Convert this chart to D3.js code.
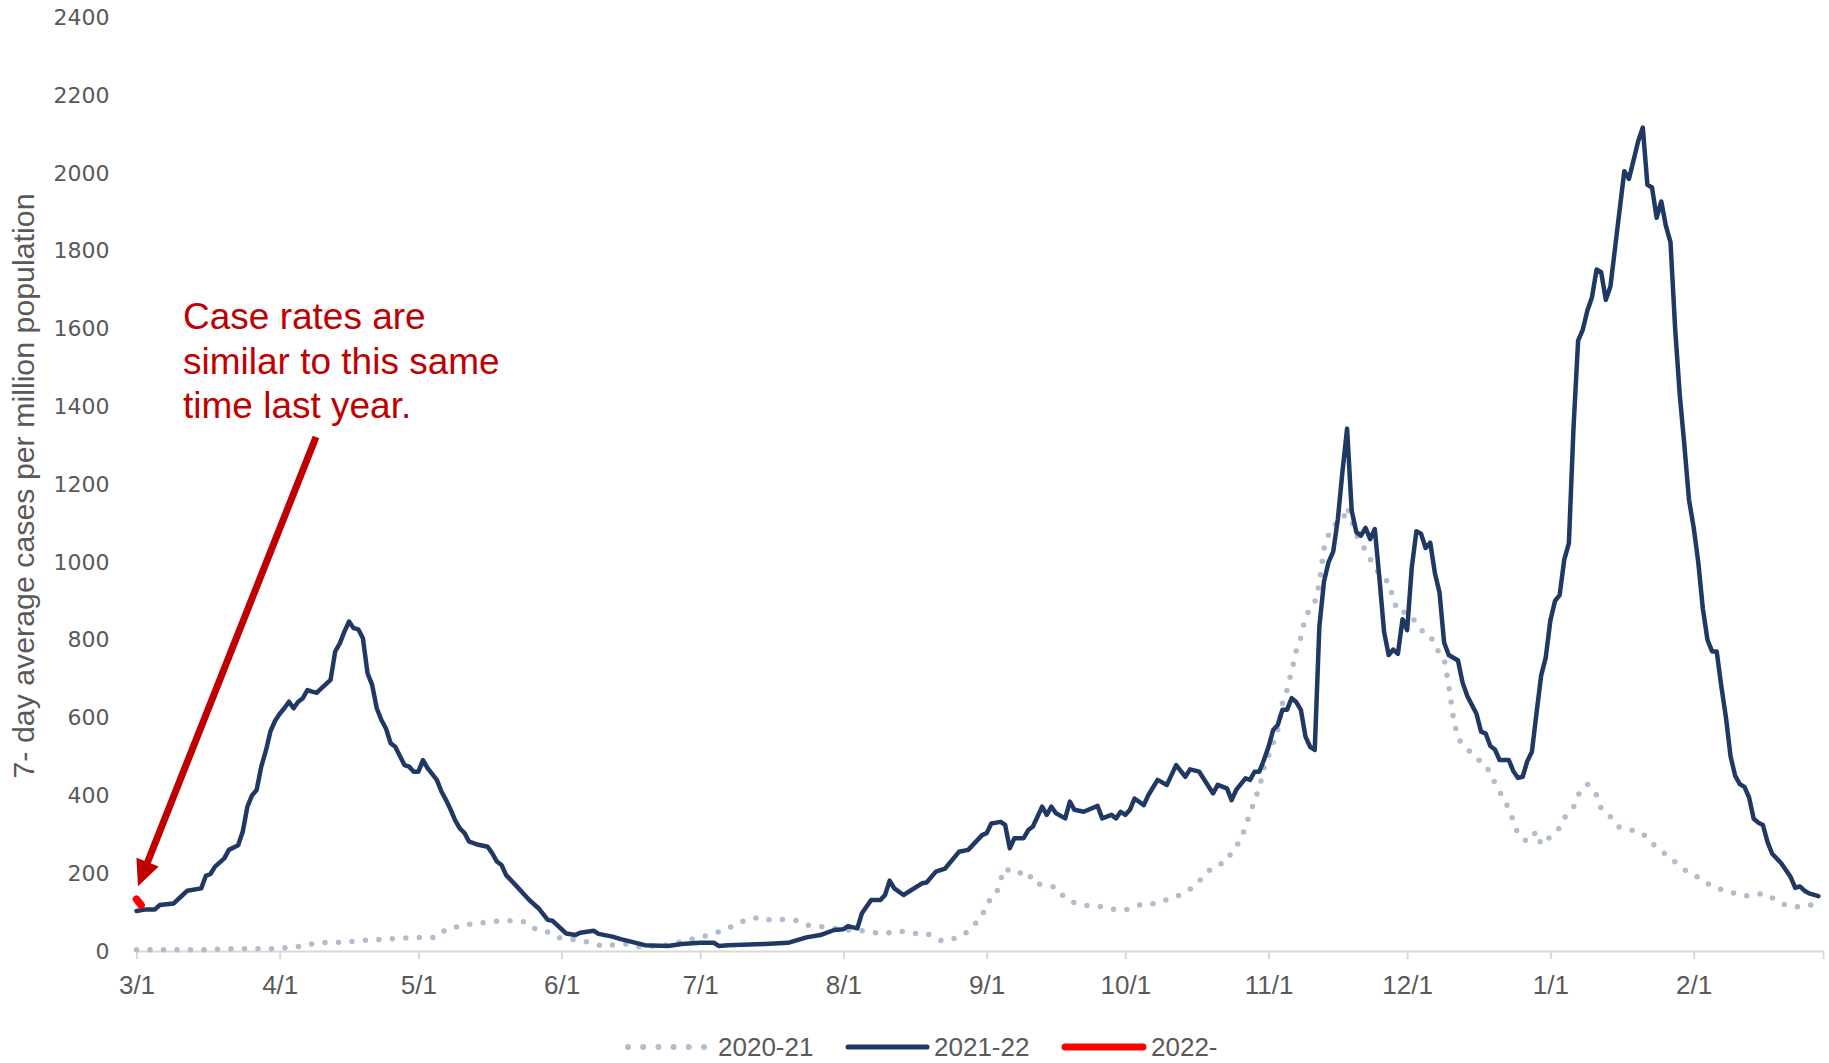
<!DOCTYPE html>
<html>
<head>
<meta charset="utf-8">
<script src="https://cdn.jsdelivr.net/npm/d3@7"></script>
<style>
  html, body { margin: 0; padding: 0; background: #ffffff; }
  svg { display: block; }
</style>
</head>
<body>
<svg id="chart" width="1829" height="1063"></svg>
<script>
// Day offsets are counted from 1 March of each season.
const days2021 = [0,6,15,21,30,33,36,39,45,50,56,62,65,67,70,73,76,79,81,84,86,88,91,96,99,101,104,107,109,113,116,118,121,124,127,129,132,135,137,140,143,145,148,151,154,157,160,163,165,168,171,174,176,179,181,183,184,186,187,188,190,193,194,196,199,201,203,206,209,211,214,217,219,222,224,227,229,231,233,236,237,239,240,241,242,243,244,246,247,248,249,250,251,252,253,255,256,257,258,259,261,262,264,266,268,270,271,272,273,275,277,278,280,281,283,284,285,286,288,290,292,293,295,297,298,299,301,303,304,306,308,309,311,312,314,316,317,319,321,324,326,328,330,332,334,336,339,341,344,346,349,352,355,357,360,363];
const cases2021 = [3,3,3,6,6,9,13,21,23,28,32,35,35,56,64,71,73,78,78,75,58,55,35,27,20,11,18,18,11,13,18,24,33,41,54,64,81,87,80,81,78,67,63,58,54,52,47,47,52,45,45,27,28,41,63,90,123,144,183,213,198,204,176,170,164,135,124,116,114,108,105,118,118,129,135,150,167,193,217,230,255,285,320,354,387,421,470,534,568,637,671,720,772,806,860,896,945,1035,1070,1095,1105,1142,1070,1030,986,954,950,905,871,871,844,825,813,782,752,683,600,546,520,495,480,454,410,366,333,300,281,307,273,294,317,342,370,401,429,401,366,345,317,310,302,277,257,239,218,201,183,165,155,148,141,148,131,117,113,120];

const days2122 = [0,2,4,5,8,10,11,14,15,16,17,19,20,22,23,24,25,26,27,28,29,30,31,32,33,34,35,36,37,38,39,40,42,43,44,45,46,47,48,49,50,51,52,53,54,55,56,58,59,60,61,62,63,65,66,67,68,69,70,71,72,74,76,77,78,79,80,82,85,87,89,90,93,95,96,99,100,103,105,107,110,115,118,122,125,126,128,136,141,145,148,151,153,154,156,157,159,161,162,163,164,166,170,171,173,175,178,180,183,184,185,187,188,189,190,192,193,194,196,197,198,199,201,202,203,205,208,209,211,212,213,214,215,216,218,219,221,223,225,227,228,230,233,234,236,237,238,240,241,242,243,244,245,246,247,248,249,250,251,252,253,254,255,256,257,258,259,260,261,262,263,264,265,266,267,268,269,270,271,272,273,274,275,276,277,278,279,280,281,282,283,284,286,287,288,290,291,292,293,294,295,297,298,299,300,301,302,303,304,305,306,307,308,309,310,311,312,313,314,315,316,317,318,319,320,322,323,324,325,326,327,328,329,330,331,332,333,334,335,336,337,338,339,340,341,342,343,344,345,346,347,348,349,350,351,352,353,354,356,358,359,360,361,362,364];
const cases2122 = [103,107,107,118,122,144,155,161,193,198,217,238,260,272,307,371,400,414,474,515,565,592,610,624,641,624,641,650,671,667,664,675,697,770,791,821,847,830,827,804,714,684,624,594,572,534,525,478,474,461,461,491,470,440,410,388,363,335,315,303,281,273,268,251,230,221,195,170,131,110,80,78,45,41,47,52,44,37,30,24,15,13,18,21,21,13,15,18,21,35,41,54,56,64,58,97,131,131,144,181,161,144,174,176,204,212,255,260,298,303,328,332,324,264,290,290,311,320,371,350,371,354,341,384,363,358,373,341,350,341,358,350,363,392,375,401,440,427,478,448,467,461,405,427,418,388,414,444,440,461,461,491,525,568,581,620,620,650,640,620,551,525,517,834,950,1000,1027,1110,1233,1343,1132,1077,1068,1088,1059,1085,958,821,761,775,764,853,825,986,1079,1073,1036,1050,972,922,793,761,747,690,656,610,564,559,527,518,491,491,462,445,448,488,512,612,708,755,850,900,915,1006,1048,1344,1569,1597,1646,1681,1752,1745,1674,1709,1808,2005,1985,2033,2082,2117,1970,1963,1885,1927,1864,1822,1600,1430,1300,1160,1090,1000,880,800,770,770,680,600,500,450,429,422,395,340,330,324,280,250,225,190,162,166,155,148,141];

const days2223 = [0,1];
const cases2223 = [133,118];

const yTicks = [0,200,400,600,800,1000,1200,1400,1600,1800,2000,2200,2400];
const seriesNames = ["2020-21","2021-22","2022-"];
const seriesColors = ["#b1bccd","#203864","#ff0000"];
const yTitle = "7- day average cases per million population";
const noteLines = ["Case rates are","similar to this same","time last year."];

(function draw() {
  const seasonStart = new Date(2021, 2, 1);
  const seasonEnd = new Date(2022, 2, 1);
  const toDate = d => d3.timeDay.offset(seasonStart, d);

  const svg = d3.select("#chart");
  const plotLeft = 136.5, plotRight = 1823, plotTop = 17.5, plotBottom = 951;

  const x = d3.scaleTime().domain([seasonStart, seasonEnd]).range([plotLeft, plotRight]);
  const y = d3.scaleLinear().domain([0, 2400]).range([plotBottom, plotTop]);

  // y axis labels (no axis line)
  const yAxis = svg.append("g")
    .attr("transform", `translate(${plotLeft},0)`)
    .call(d3.axisLeft(y).tickValues(yTicks).tickSize(0).tickPadding(27).tickFormat(d3.format("d")));
  yAxis.select(".domain").remove();
  yAxis.selectAll("text")
    .attr("font-family", "'DejaVu Sans', Verdana, sans-serif")
    .attr("font-size", 22)
    .attr("fill", "#595959");

  // x axis with month ticks
  const monthTicks = d3.timeMonth.range(seasonStart, d3.timeDay.offset(seasonEnd, 1));
  const fmt = d3.timeFormat("%-m/%-d");
  const xAxis = svg.append("g")
    .attr("transform", `translate(0,${plotBottom})`)
    .call(d3.axisBottom(x).tickValues(monthTicks).tickSize(8).tickSizeOuter(0).tickPadding(17)
      .tickFormat(d => (+d === +seasonEnd ? "" : fmt(d))));
  xAxis.select(".domain").attr("stroke", "#d9d9d9").attr("stroke-width", 2);
  xAxis.selectAll(".tick line").attr("stroke", "#d9d9d9").attr("stroke-width", 2);
  xAxis.selectAll("text")
    .attr("font-family", "'Liberation Sans Narrow', 'Arial Narrow', sans-serif")
    .attr("font-size", 26)
    .attr("fill", "#595959");

  // y axis title
  svg.append("text")
    .attr("transform", `translate(34,486) rotate(-90)`)
    .attr("text-anchor", "middle")
    .attr("font-family", "'Liberation Sans Narrow', 'Arial Narrow', sans-serif")
    .attr("font-size", 29)
    .attr("fill", "#595959")
    .attr("textLength", 585)
    .attr("lengthAdjust", "spacingAndGlyphs")
    .text(yTitle);

  const line = d3.line().x(p => x(toDate(p[0]))).y(p => y(p[1]));
  const zip = (ds, vs) => ds.map((d, i) => [d, vs[i]]);

  // 2020-21 dotted
  svg.append("path")
    .datum(zip(days2021, cases2021))
    .attr("d", line)
    .attr("fill", "none")
    .attr("stroke", seriesColors[0])
    .attr("stroke-width", 5.5)
    .attr("stroke-linecap", "round")
    .attr("stroke-dasharray", "0 13.5");

  // 2021-22 solid
  svg.append("path")
    .datum(zip(days2122, cases2122))
    .attr("d", line)
    .attr("fill", "none")
    .attr("stroke", seriesColors[1])
    .attr("stroke-width", 4.5)
    .attr("stroke-linejoin", "round")
    .attr("stroke-linecap", "round");

  // 2022- solid red
  svg.append("path")
    .datum(zip(days2223, cases2223))
    .attr("d", line)
    .attr("fill", "none")
    .attr("stroke", seriesColors[2])
    .attr("stroke-width", 7.5)
    .attr("stroke-linecap", "round");

  // annotation text
  const note = svg.append("text")
    .attr("font-family", "'Liberation Sans', Arial, sans-serif")
    .attr("font-size", 37)
    .attr("fill", "#c00000");
  noteLines.forEach((t, i) => {
    note.append("tspan").attr("x", 183).attr("y", 329 + i * 44.5).text(t);
  });

  // arrow pointing at the start of the 2022- series
  const tipX = x(toDate(days2223[0])) + 1.5;
  const tipY = y(cases2223[0]) - 13;
  const tailX = 316, tailY = 437;
  const ang = Math.atan2(tipY - tailY, tipX - tailX);
  const headLen = 26, headHalf = 12;
  const baseX = tipX - headLen * Math.cos(ang), baseY = tipY - headLen * Math.sin(ang);
  svg.append("line")
    .attr("x1", tailX).attr("y1", tailY)
    .attr("x2", baseX + 2 * Math.cos(ang)).attr("y2", baseY + 2 * Math.sin(ang))
    .attr("stroke", "#c00000").attr("stroke-width", 7);
  svg.append("path")
    .attr("d", `M${tipX},${tipY}L${baseX - headHalf * Math.sin(ang)},${baseY + headHalf * Math.cos(ang)}L${baseX + headHalf * Math.sin(ang)},${baseY - headHalf * Math.cos(ang)}Z`)
    .attr("fill", "#c00000");

  // legend
  const legendY = 1047;
  const legendItems = [
    {sx: 628, ex: 705, tx: 718},
    {sx: 848, ex: 927, tx: 934},
    {sx: 1065, ex: 1143, tx: 1151}
  ];
  const lg = svg.append("g");
  legendItems.forEach((it, i) => {
    const l = lg.append("line")
      .attr("x1", it.sx).attr("x2", it.ex)
      .attr("y1", legendY).attr("y2", legendY)
      .attr("stroke", seriesColors[i])
      .attr("stroke-linecap", "round");
    if (i === 0) l.attr("stroke-width", 6).attr("stroke-dasharray", "0 15.2");
    else l.attr("stroke-width", i === 1 ? 5 : 7);
    lg.append("text")
      .attr("x", it.tx).attr("y", legendY)
      .attr("dy", "0.35em")
      .attr("font-family", "'Liberation Sans Narrow', 'Arial Narrow', sans-serif")
      .attr("font-size", 26)
      .attr("fill", "#595959")
      .text(seriesNames[i]);
  });
})();
</script>
</body>
</html>
